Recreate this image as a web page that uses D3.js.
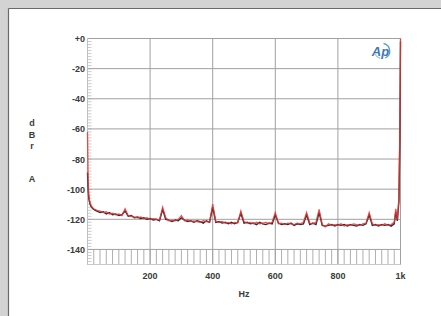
<!DOCTYPE html>
<html><head><meta charset="utf-8">
<script src="https://cdn.jsdelivr.net/npm/d3@7"></script>
<style>
html,body{margin:0;padding:0;background:#d3d3d3;}
svg{display:block;font-family:"Liberation Sans",Arial,sans-serif;}
</style></head>
<body>
<svg id="chart" width="441" height="316"></svg>
<script>
const freqs = [0,2,4,7,10,15,20,25,30,40,50,60,70,80,90,100,110,120,130,140,150,160,170,180,190,200,210,220,230,240,250,260,270,280,290,300,310,320,330,340,350,360,370,380,390,400,410,420,430,440,450,460,470,480,490,500,510,520,530,540,550,560,570,580,590,600,610,620,630,640,650,660,670,680,690,700,710,720,730,740,750,760,770,780,790,800,810,820,830,840,850,860,870,880,890,900,910,920,930,940,950,960,970,980,985,990,995,998,1000];
const redSeries = [-62,-95,-104,-108,-110,-112,-113,-113.5,-114,-114.5,-115.5,-115,-116.5,-116,-117,-116.5,-117.5,-113,-117.5,-118,-118.5,-119,-118.5,-119.5,-119,-120,-119.5,-120,-120.5,-112,-119,-121,-120.5,-121,-120,-117.5,-121,-120.5,-121.5,-121,-121.5,-122,-121,-121.5,-122,-110,-121.5,-122,-121.5,-122.5,-122,-123,-122,-122.5,-114.5,-121.5,-122.5,-122,-123,-122,-123,-122.5,-122,-123,-122,-115.5,-123,-122.5,-123.5,-122.5,-123,-123.5,-122.5,-123,-122,-115.5,-122.5,-123,-122,-113.5,-123.5,-125,-123,-124,-123.5,-124,-123,-124.5,-123.5,-124,-123,-123.5,-124,-123,-122.5,-115.5,-123,-124,-123.5,-124,-123,-124,-123.5,-122,-113,-120,-105,-60,0];
const darkSeries = [-89,-100,-106,-109,-111,-112.5,-113.5,-114,-114.5,-115.5,-115,-116.5,-115.5,-117,-116.5,-117.5,-117,-114.5,-118,-117.5,-119,-118.5,-119.5,-119,-120,-119.5,-120.5,-120,-121,-113.5,-120,-120.5,-121.5,-120.5,-121,-119,-120.5,-121.5,-121,-122,-121,-121.5,-122.5,-121,-122,-112,-122,-121.5,-122.5,-122,-123,-122,-123,-122,-116,-122.5,-122,-123,-122.5,-123.5,-122,-123,-123.5,-122.5,-123,-117,-122.5,-123.5,-123,-123.5,-122.5,-124,-123,-123.5,-123,-117,-123.5,-122.5,-123.5,-115.5,-124,-124.5,-124,-123.5,-124.5,-123.5,-124,-123.5,-124.5,-123.5,-124,-124.5,-123.5,-124,-123,-117,-124,-123.5,-124.5,-123.5,-124,-123.5,-124.5,-123,-115,-121,-108,-65,-2];
const xTicks = [200,400,600,800,1000];
const xTickLabels = ["200","400","600","800","1k"];
const yTicks = [0,-20,-40,-60,-80,-100,-120,-140];
const yTickLabels = ["+0","-20","-40","-60","-80","-100","-120","-140"];
const yLabelLetters = ["d","B","r","A"];

const svg = d3.select("#chart");
// frame
svg.append("rect").attr("x",0).attr("y",0).attr("width",441).attr("height",316).attr("fill","#d3d3d3");
svg.append("rect").attr("x",9).attr("y",9).attr("width",432).attr("height",307).attr("fill","#ffffff");
svg.append("line").attr("x1",8.5).attr("x2",441).attr("y1",8.5).attr("y2",8.5).attr("stroke","#6a6a6a").attr("stroke-width",1.2);
svg.append("line").attr("x1",8.5).attr("x2",8.5).attr("y1",8.5).attr("y2",316).attr("stroke","#6a6a6a").attr("stroke-width",1.2);

const L=87.5, R=400.5, T=38.5, B=264.5;
const x = d3.scaleLinear().domain([0,1000]).range([L,R]);
const y = d3.scaleLinear().domain([-150,0]).range([B,T]);

const g = svg.append("g");
// minor ticks bottom band
const minorX = d3.range(0,1001,20);
g.selectAll(".mx").data(minorX).enter().append("line")
  .attr("x1",d=>x(d)).attr("x2",d=>x(d)).attr("y1",y(-140)).attr("y2",B)
  .attr("stroke","#9a9a9a").attr("stroke-width",0.8);
// minor ticks left
const minorY = d3.range(-150,1,2);
g.selectAll(".my").data(minorY).enter().append("line")
  .attr("x1",L).attr("x2",L+4).attr("y1",d=>y(d)).attr("y2",d=>y(d))
  .attr("stroke","#b4b4b4").attr("stroke-width",0.7);
// grid
g.selectAll(".gx").data(xTicks).enter().append("line")
  .attr("x1",d=>x(d)).attr("x2",d=>x(d)).attr("y1",T).attr("y2",B)
  .attr("stroke","#a0a0a0").attr("stroke-width",1);
g.selectAll(".gy").data(yTicks).enter().append("line")
  .attr("x1",L).attr("x2",R).attr("y1",d=>y(d)).attr("y2",d=>y(d))
  .attr("stroke","#a0a0a0").attr("stroke-width",1);
g.append("line").attr("x1",L).attr("x2",L).attr("y1",T).attr("y2",B).attr("stroke","#c0c0c0");
g.append("line").attr("x1",L).attr("x2",R).attr("y1",B).attr("y2",B).attr("stroke","#c8c8c8");

// tick labels
svg.selectAll(".yl").data(yTicks).enter().append("text")
  .attr("x",85).attr("y",d=>y(d)+3.5).attr("text-anchor","end")
  .attr("font-size",9).attr("font-weight","bold").attr("fill","#3a3a3a")
  .text((d,i)=>yTickLabels[i]);
svg.selectAll(".xl").data(xTicks).enter().append("text")
  .attr("x",d=>x(d)).attr("y",279).attr("text-anchor","middle")
  .attr("font-size",9).attr("font-weight","bold").attr("fill","#3a3a3a")
  .text((d,i)=>xTickLabels[i]);
svg.append("text").attr("x",244).attr("y",297).attr("text-anchor","middle")
  .attr("font-size",9).attr("font-weight","bold").attr("fill","#3a3a3a").text("Hz");
const letterY=[126,138,149,182];
svg.selectAll(".al").data(yLabelLetters).enter().append("text")
  .attr("x",32).attr("y",(d,i)=>letterY[i]).attr("text-anchor","middle")
  .attr("font-size",9).attr("font-weight","bold").attr("fill","#3a3a3a").text(d=>d);

// lines
const data = (vals)=>freqs.map((f,i)=>[f,vals[i]]);
const line = d3.line().x(d=>x(d[0])).y(d=>y(d[1]));
svg.append("path").attr("d",line(data(darkSeries))).attr("fill","none")
  .attr("stroke","#2d2b40").attr("stroke-width",1.4);
svg.append("path").attr("d",line(data(redSeries))).attr("fill","none")
  .attr("stroke","#e8352c").attr("stroke-width",1.3).attr("stroke-opacity",0.85);

// AP logo
const logo = svg.append("g").attr("transform","translate(382,51)");
logo.append("path").attr("d",d3.arc()({innerRadius:7,outerRadius:8.4,startAngle:0.2,endAngle:2.7}))
  .attr("fill","#5aa0c8");
logo.append("path").attr("d",d3.arc()({innerRadius:7,outerRadius:8.2,startAngle:3.4,endAngle:4.3}))
  .attr("fill","#9cc8e0");
logo.append("text").attr("x",-1.5).attr("y",4.5).attr("text-anchor","middle")
  .attr("font-size",13).attr("font-style","italic").attr("font-weight","bold")
  .attr("fill","#3f78b8").text("Ap");
</script>
</body></html>
